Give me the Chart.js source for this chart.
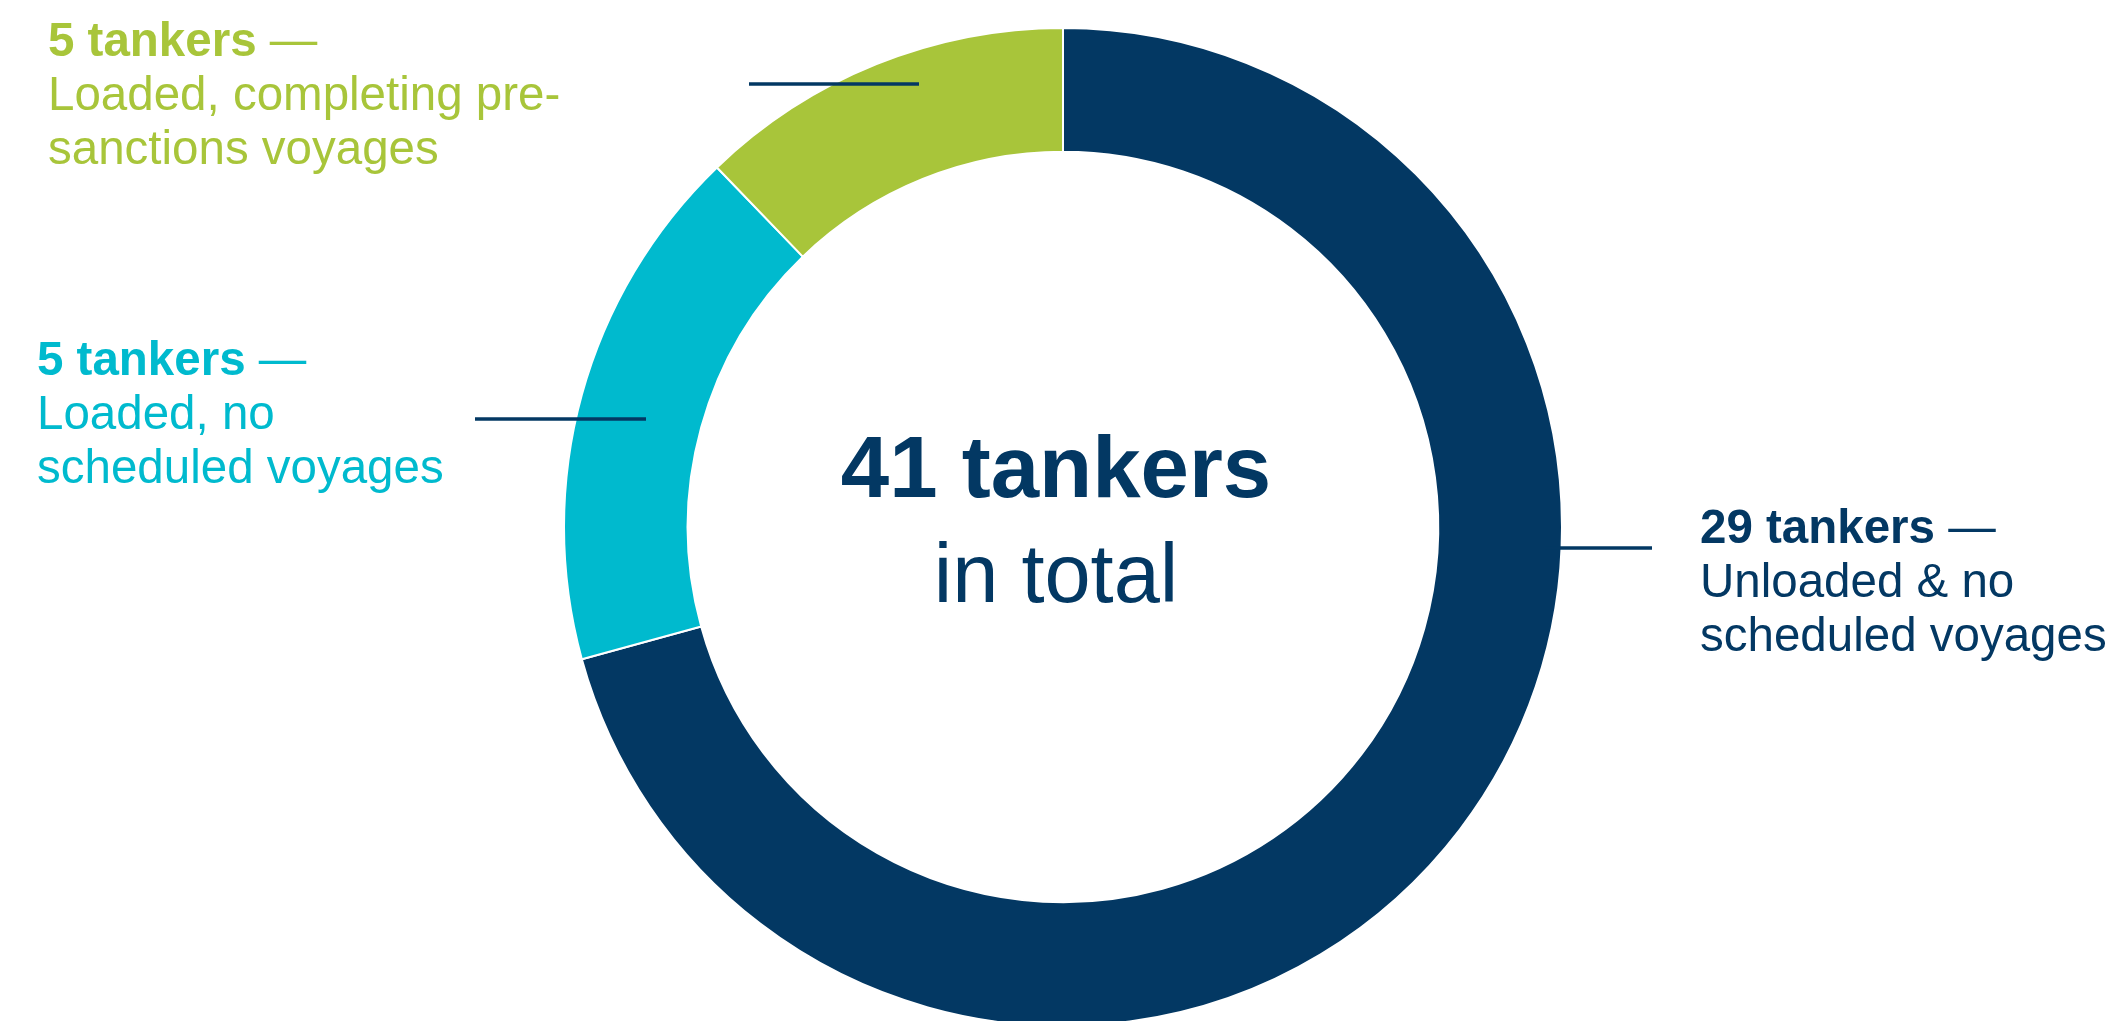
<!DOCTYPE html>
<html>
<head>
<meta charset="utf-8">
<script src="https://cdn.jsdelivr.net/npm/chart.js@4.4.0/dist/chart.umd.min.js"></script>
<style>
  html, body { margin: 0; padding: 0; background: #fff; overflow: hidden; }
  #wrap { position: relative; width: 2120px; height: 1060px; }
</style>
</head>
<body>
<div id="wrap"><canvas id="donutChart"></canvas></div>
<script>
// data (slice sizes follow the drawn angles)
const categories = ['Unloaded & no scheduled voyages', 'Loaded, no scheduled voyages', 'Loaded, completing pre-sanctions voyages'];
const tankerCounts = [29, 7, 5];
const countLabels = ['29 tankers', '5 tankers', '5 tankers'];
const descLines = [
  ['Unloaded & no', 'scheduled voyages'],
  ['Loaded, no', 'scheduled voyages'],
  ['Loaded, completing pre-', 'sanctions voyages'],
];
const totalLines = ['41 tankers', 'in total'];

const sliceColors = ['#033863', '#00BACE', '#A8C53A'];
const FONT = "'Liberation Sans', Arial, sans-serif";

// labels + leader lines, placed relative to the donut centre
const calloutPlugin = {
  id: 'callouts',
  afterDraw(chart) {
    const ctx = chart.ctx;
    const arc = chart.getDatasetMeta(0).data[0];
    const cx = arc.x, cy = arc.y;

    ctx.save();
    // leader lines (all dark blue)
    const leaders = [
      [cx + 482, cx + 589, cy + 21],
      [cx - 588, cx - 417, cy - 108],
      [cx - 314, cx - 144, cy - 443],
    ];
    ctx.strokeStyle = sliceColors[0];
    ctx.lineWidth = 3.5;
    leaders.forEach(([x1, x2, y]) => {
      ctx.beginPath();
      ctx.moveTo(x1, y);
      ctx.lineTo(x2, y);
      ctx.stroke();
    });

    // side labels
    const spots = [
      { x: cx + 637, y: cy + 16 },
      { x: cx - 1026, y: cy - 152 },
      { x: cx - 1015, y: cy - 471 },
    ];
    ctx.textAlign = 'left';
    ctx.textBaseline = 'alphabetic';
    spots.forEach((p, i) => {
      ctx.fillStyle = sliceColors[i];
      ctx.font = 'bold 47.5px ' + FONT;
      ctx.fillText(countLabels[i], p.x, p.y);
      const w = ctx.measureText(countLabels[i]).width;
      ctx.font = '47.5px ' + FONT;
      ctx.fillText(' \u2014', p.x + w, p.y);
      descLines[i].forEach((line, j) => {
        ctx.fillText(line, p.x, p.y + 54 * (j + 1));
      });
    });

    // centre text
    ctx.textAlign = 'center';
    ctx.fillStyle = sliceColors[0];
    ctx.font = 'bold 87px ' + FONT;
    ctx.fillText(totalLines[0], cx - 7, cy - 30);
    ctx.font = '83px ' + FONT;
    ctx.fillText(totalLines[1], cx - 7, cy + 75);
    ctx.restore();
  },
};

new Chart(document.getElementById('donutChart'), {
  type: 'doughnut',
  data: {
    labels: categories,
    datasets: [{
      data: tankerCounts,
      backgroundColor: sliceColors,
      borderColor: '#ffffff',
      borderWidth: 2,
    }],
  },
  options: {
    responsive: true,
    maintainAspectRatio: false,
    animation: false,
    cutout: '75.2%',
    layout: { padding: { top: 27, left: 563, right: 557, bottom: 33 } },
    plugins: {
      legend: { display: false },
      tooltip: { enabled: false },
    },
  },
  plugins: [calloutPlugin],
});
</script>
</body>
</html>
